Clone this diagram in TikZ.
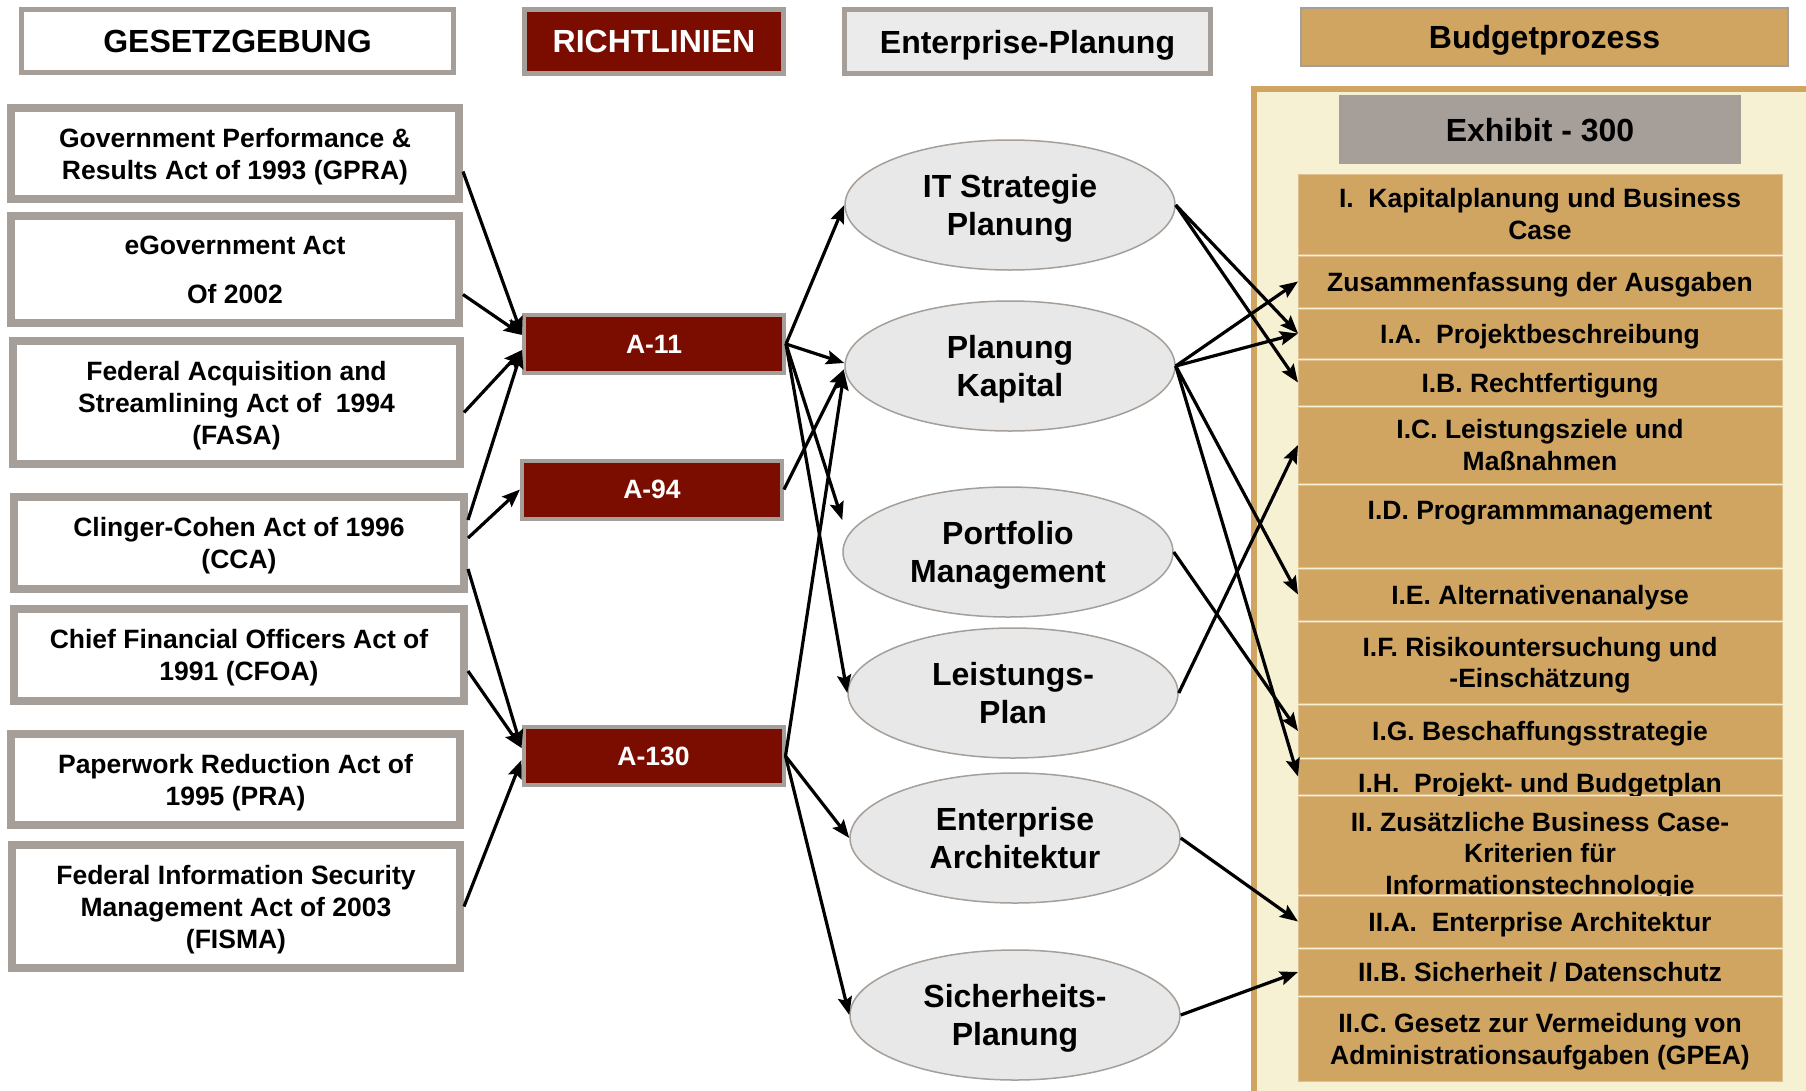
\documentclass[tikz,border=0pt]{standalone}
\usepackage{fontspec}
\setmainfont{Liberation Sans}
\usepackage{tikz}
\usetikzlibrary{shapes.geometric, arrows.meta, positioning}

\definecolor{framegray}{RGB}{166,158,152}
\definecolor{polred}{RGB}{123,13,0}
\definecolor{budtan}{RGB}{208,165,98}
\definecolor{budcream}{RGB}{247,241,211}
\definecolor{ellgray}{RGB}{232,232,232}
\definecolor{entgray}{RGB}{235,235,235}

\tikzset{
  head_font/.style = {font=\bfseries\fontsize{32}{38}\selectfont, text depth=0pt},
  body_font/.style = {font=\bfseries\fontsize{26.5}{32}\selectfont, text depth=0pt},
  item_font/.style = {font=\bfseries\fontsize{26.5}{31.5}\selectfont, text depth=0pt}
}
\tikzset{
  header/.style = {head_font, draw=framegray, line width=5pt, align=center, inner sep=0pt},
  law/.style = {body_font, draw=framegray, line width=8pt, fill=white, align=center,
    minimum width=448pt, inner sep=0pt},
  policy/.style = {body_font, text=white, fill=polred, draw=framegray, line width=4pt,
    minimum width=260pt, minimum height=58pt, inner sep=0pt},
  plan/.style = {ellipse, head_font, fill=ellgray, draw=framegray, line width=1.5pt,
    minimum width=330pt, minimum height=130pt, inner sep=0pt, align=center},
  panel/.style = {fill=budcream, draw=budtan, line width=6pt, inner sep=0pt},
  item/.style = {item_font, fill=budtan, draw=budtan!70!white, line width=1pt, align=center,
    minimum width=484pt, inner sep=0pt, outer sep=0pt},
  flow_arrow/.style = {-{Stealth[length=18pt, width=14pt, inset=3pt]}, line width=3.2pt}
}

\begin{document}
\begin{tikzpicture}[x=1pt, y=-1pt]
        \useasboundingbox (0,0) rectangle (1806,1090);
        \clip (0,0) rectangle (1806,1090);

        % Column headers
        \node[header, fill=white, minimum width=432pt, minimum height=63pt] (head_law) at (237.5,41) {GESETZGEBUNG};
        \node[header, fill=polred, text=white, minimum width=259pt, minimum height=64pt] (head_pol) at (654,41.5) {RICHTLINIEN};
        \node[header, fill=entgray, minimum width=366pt, minimum height=64pt] (head_ep) at (1027.5,41.5) {Enterprise-Planung};
        \node[header, fill=budtan, line width=2pt, minimum width=487pt, minimum height=58pt] (head_bud) at (1544.5,37) {Budgetprozess};

        % Laws
        \node[law, minimum height=91pt] (law_1) at (235,153.5) {
            Government Performance \&\\ Results Act of 1993 (GPRA)};
        \node[law, minimum height=107pt] (law_2) at (235,269.5) {
            eGovernment Act\\[17pt] Of 2002};
        \node[law, minimum width=447pt, minimum height=123pt] (law_3) at (236.5,402.5) {
            Federal Acquisition and\\ Streamlining Act of~ 1994\\ (FASA)};
        \node[law, minimum width=450pt, minimum height=92pt] (law_4) at (239,543) {
            Clinger-Cohen Act of 1996\\ (CCA)};
        \node[law, minimum width=450pt, minimum height=92pt] (law_5) at (239,655) {
            Chief Financial Officers Act of\\ 1991 (CFOA)};
        \node[law, minimum width=449pt, minimum height=91pt] (law_6) at (235.5,779.5) {
            Paperwork Reduction Act of\\ 1995 (PRA)};
        \node[law, minimum height=123pt] (law_7) at (236,906.5) {
            Federal Information Security\\ Management Act of 2003\\ (FISMA)};

        % Policies
        \node[policy] (pol_11) at (654,344) {A-11};
        \node[policy] (pol_94) at (652,489.5) {A-94};
        \node[policy] (pol_130) at (653.5,756) {A-130};

        % Enterprise planning
        \node[plan] (ep_1) at (1010,205) {IT Strategie\\ Planung};
        \node[plan] (ep_2) at (1010,366) {Planung\\ Kapital};
        \node[plan] (ep_3) at (1008,552) {Portfolio\\ Management};
        \node[plan] (ep_4) at (1013,693) {Leistungs-\\ Plan};
        \node[plan] (ep_5) at (1015,838) {Enterprise\\ Architektur};
        \node[plan] (ep_6) at (1015,1015) {Sicherheits-\\ Planung};

        % Budget process
        \node[panel, anchor=north west, minimum width=620pt, minimum height=1060pt] (bp_panel) at (1251,86) {};
        \node[head_font, fill=framegray, minimum width=402pt, minimum height=69pt, inner sep=0pt] (bp_ex) at (1540,129.5) {Exhibit - 300};

        \node[item, anchor=north, minimum height=80pt] (bp_i) at (1540,174) {
            I.~ Kapitalplanung und Business\\ Case};
        \node[item, below=2pt of bp_i, minimum height=51pt] (bp_sum) {Zusammenfassung der Ausgaben};
        \node[item, below=2pt of bp_sum, minimum height=49pt] (bp_ia) {I.A.~ Projektbeschreibung};
        \node[item, below=2pt of bp_ia, minimum height=45pt] (bp_ib) {I.B. Rechtfertigung};
        \node[item, below=2pt of bp_ib, minimum height=76pt] (bp_ic) {
            I.C. Leistungsziele und\\ Maßnahmen};
        \node[item, below=2pt of bp_ic, minimum height=82pt] (bp_id) {
            I.D. Programmmanagement\\ \strut};
        \node[item, below=2pt of bp_id, minimum height=51pt] (bp_ie) {I.E. Alternativenanalyse};
        \node[item, below=2pt of bp_ie, minimum height=81pt] (bp_if) {
            I.F. Risikountersuchung und\\ -Einschätzung};
        \node[item, below=2pt of bp_if, minimum height=52pt] (bp_ig) {I.G. Beschaffungsstrategie};
        \node[item, below=2pt of bp_ig, minimum height=35pt, text height=31pt] (bp_ih) {I.H.~ Projekt- und Budgetplan};
        \node[item, below=2pt of bp_ih, minimum height=98pt, text height=98pt] (bp_ii) {
            II. Zusätzliche Business Case-\\ Kriterien für\\ Informationstechnologie};
        \node[item, below=2pt of bp_ii, minimum height=51pt] (bp_iia) {II.A.~ Enterprise Architektur};
        \node[item, below=2pt of bp_iia, minimum height=46pt] (bp_iib) {II.B. Sicherheit / Datenschutz};
        \node[item, below=2pt of bp_iib, minimum height=84pt] (bp_iic) {
            II.C. Gesetz zur Vermeidung von\\ Administrationsaufgaben (GPEA)};

        % Arrows laws -> policies
        \draw[flow_arrow] ([yshift=-18pt]law_1.east) -- ([yshift=9pt]pol_11.west);
        \draw[flow_arrow] ([yshift=-25pt]law_2.east) -- ([yshift=9pt]pol_11.west);
        \draw[flow_arrow] ([yshift=-10pt]law_3.east) -- ([yshift=-6pt]pol_11.west);
        \draw[flow_arrow] ([yshift=23pt]law_4.east) -- ([yshift=-6pt]pol_11.west);
        \draw[flow_arrow] ([yshift=5pt]law_4.east) -- (pol_94.west);
        \draw[flow_arrow] ([yshift=-26pt]law_4.east) -- ([yshift=8pt]pol_130.west);
        \draw[flow_arrow] ([yshift=-16pt]law_5.east) -- ([yshift=8pt]pol_130.west);
        \draw[flow_arrow] (law_7.east) -- ([yshift=-4pt]pol_130.west);

        % Arrows policies -> planning
        \draw[flow_arrow] (pol_11.east) -- (ep_1.west);
        \draw[flow_arrow] (pol_11.east) -- ([yshift=3pt]ep_2.west);
        \draw[flow_arrow] (pol_11.east) -- ([yshift=32pt]ep_3.west);
        \draw[flow_arrow] (pol_11.east) -- (ep_4.west);
        \draw[flow_arrow] (pol_94.east) -- ([yshift=-3pt]ep_2.west);
        \draw[flow_arrow] (pol_130.east) -- ([yshift=-6pt]ep_2.west);
        \draw[flow_arrow] (pol_130.east) -- (ep_5.west);
        \draw[flow_arrow] (pol_130.east) -- (ep_6.west);

        % Arrows planning -> budget items
        \draw[flow_arrow] (ep_1.east) -- (bp_ia.west);
        \draw[flow_arrow] (ep_1.east) -- (bp_ib.west);
        \draw[flow_arrow] (ep_2.east) -- (bp_sum.west);
        \draw[flow_arrow] (ep_2.east) -- (bp_ia.west);
        \draw[flow_arrow] (ep_2.east) -- (bp_ie.west);
        \draw[flow_arrow] (ep_2.east) -- (bp_ih.west);
        \draw[flow_arrow] (ep_3.east) -- (bp_ig.west);
        \draw[flow_arrow] (ep_4.east) -- (bp_ic.west);
        \draw[flow_arrow] (ep_5.east) -- (bp_iia.west);
        \draw[flow_arrow] (ep_6.east) -- (bp_iib.west);
\end{tikzpicture}
\end{document}
